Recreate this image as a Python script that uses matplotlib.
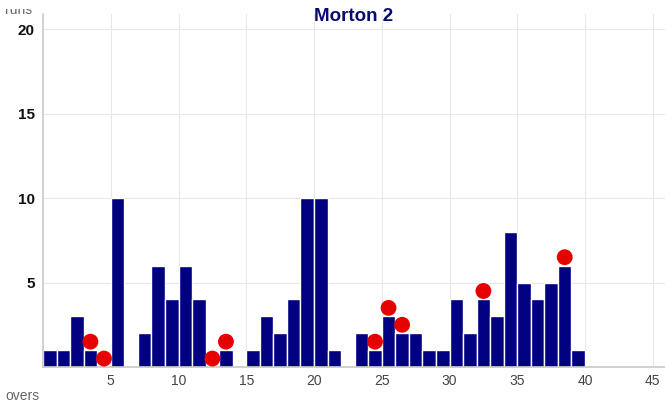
import matplotlib.pyplot as plt
from matplotlib.transforms import Bbox

# runs per over, overs 1..40
overs = list(range(1, 41))
runs = [1, 1, 3, 1, 0, 10, 0, 2, 6, 4,
        6, 4, 0, 1, 0, 1, 3, 2, 4, 10,
        10, 1, 0, 2, 1, 3, 2, 2, 1, 1,
        4, 2, 4, 3, 8, 5, 4, 5, 6, 1]
wicket_overs = [4, 5, 13, 14, 25, 26, 27, 33, 39]
x_ticks = [5, 10, 15, 20, 25, 30, 35, 40, 45]
y_ticks = [5, 10, 15, 20]

plt.rcParams['font.family'] = ['Liberation Sans', 'DejaVu Sans']

fig = plt.figure(figsize=(6.65, 4.08), dpi=100)
ax = fig.add_axes([43 / 665, 41 / 408, 622 / 665, 353 / 408])

# bars span [over-1, over]
ax.bar([o - 0.5 for o in overs], runs, width=1.0, color='#000080',
       edgecolor='white', linewidth=1, zorder=2)

# wickets drawn half a run above the bar top
wx = [o - 0.5 for o in wicket_overs]
wy = [runs[o - 1] + 0.5 for o in wicket_overs]
ax.scatter(wx, wy, s=130, color='#e60000', edgecolors='none', zorder=3)

ax.set_xlim(0, 45.9)
ax.set_ylim(0, 20.9)
ax.set_xticks(x_ticks)
ax.set_yticks(y_ticks)
ax.grid(True, color='#e8e8e8', linewidth=0.8, zorder=0)
ax.set_axisbelow(True)

for s in ['top', 'right']:
    ax.spines[s].set_visible(False)
for s in ['left', 'bottom']:
    ax.spines[s].set_color('#c8c8c8')
    ax.spines[s].set_linewidth(1.2)

ax.tick_params(axis='x', length=0, pad=5, labelsize=10, labelcolor='#444444')
ax.tick_params(axis='y', length=0, pad=6, labelsize=11, labelcolor='#111111')
for lbl in ax.get_yticklabels():
    lbl.set_fontweight('bold')

fig.text(354 / 665, 1 - 21 / 408, 'Morton 2', ha='center', va='baseline',
         fontsize=13.5, fontweight='bold', color='#0a0a6e')

# "runs" label is cut off at the top in the original
t = fig.text(5 / 665, 1 - 14 / 408, 'runs', fontsize=10, color='#666666', va='baseline')
t.set_clip_box(Bbox.from_extents(0, 0, 665, 408 - 9))
t.set_clip_on(True)
fig.text(5 / 665, 1 - 400 / 408, 'overs', fontsize=10, color='#666666', va='baseline')

fig.savefig('out.png', dpi=100)
